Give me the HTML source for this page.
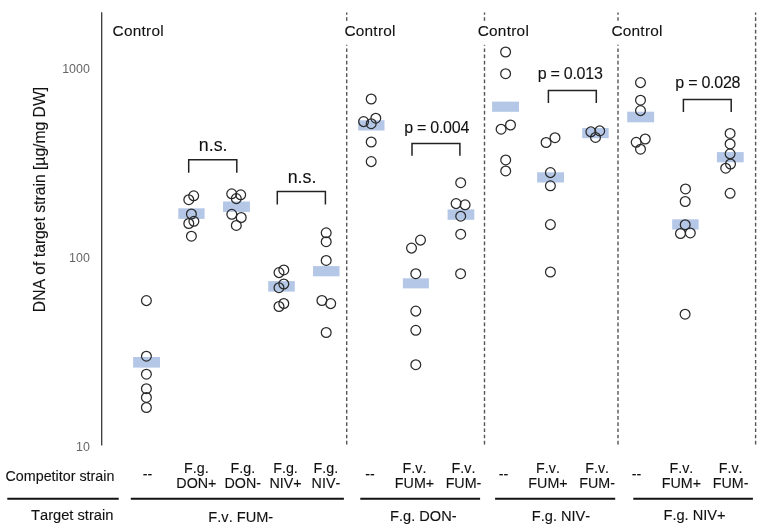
<!DOCTYPE html>
<html><head><meta charset="utf-8"><style>html,body{margin:0;padding:0;background:#fff;width:763px;height:530px;overflow:hidden}svg{display:block}text{font-family:"Liberation Sans",sans-serif;font-kerning:none;stroke:#1a1a1a;stroke-width:0.12px}svg{will-change:transform}</style></head><body>
<svg width="763" height="530" viewBox="0 0 763 530">
<rect width="763" height="530" fill="#fff"/>
<line x1="101.7" y1="12.3" x2="101.7" y2="445.5" stroke="#3a3a3a" stroke-width="1.3"/>
<text x="89.8" y="73.0" font-size="12.4" fill="#666" style="stroke:none" text-anchor="end">1000</text>
<text x="89.8" y="262.0" font-size="12.4" fill="#666" style="stroke:none" text-anchor="end">100</text>
<text x="89.8" y="450.5" font-size="12.4" fill="#666" style="stroke:none" text-anchor="end">10</text>
<text transform="translate(44.6,199.5) rotate(-90)" font-size="15.7" fill="#111" text-anchor="middle">DNA of target strain [µg/mg DW]</text>
<line x1="346.7" y1="12.5" x2="346.7" y2="445" stroke="#555" stroke-width="1.4" stroke-dasharray="3.7 2.53" stroke-dashoffset="1.5"/>
<line x1="484.5" y1="12.5" x2="484.5" y2="445" stroke="#555" stroke-width="1.4" stroke-dasharray="3.7 2.53" stroke-dashoffset="1.5"/>
<line x1="618.0" y1="12.5" x2="618.0" y2="445" stroke="#555" stroke-width="1.4" stroke-dasharray="3.7 2.53" stroke-dashoffset="1.5"/>
<line x1="755.6" y1="12.5" x2="755.6" y2="445" stroke="#555" stroke-width="1.4" stroke-dasharray="3.7 2.53" stroke-dashoffset="1.5"/>
<rect x="112.6" y="20.799999999999997" width="52" height="24" fill="#fff"/>
<text x="112.6" y="35.8" font-size="15.4" letter-spacing="0.25" fill="#111">Control</text>
<rect x="344.4" y="20.799999999999997" width="52" height="24" fill="#fff"/>
<text x="344.4" y="35.8" font-size="15.4" letter-spacing="0.25" fill="#111">Control</text>
<rect x="477.7" y="20.799999999999997" width="52" height="24" fill="#fff"/>
<text x="477.7" y="35.8" font-size="15.4" letter-spacing="0.25" fill="#111">Control</text>
<rect x="611.4" y="20.700000000000003" width="52" height="24" fill="#fff"/>
<text x="611.4" y="35.7" font-size="15.4" letter-spacing="0.25" fill="#111">Control</text>
<rect x="133.1" y="357" width="26.9" height="10.6" fill="#b4c7e7"/>
<rect x="178.3" y="208.3" width="26.3" height="10.6" fill="#b4c7e7"/>
<rect x="223.0" y="201.5" width="26.9" height="10.4" fill="#b4c7e7"/>
<rect x="268.2" y="281.1" width="26.6" height="10.5" fill="#b4c7e7"/>
<rect x="313" y="266.1" width="26.5" height="10.2" fill="#b4c7e7"/>
<rect x="358.2" y="120.3" width="26.3" height="10.2" fill="#b4c7e7"/>
<rect x="402.9" y="278.3" width="26.0" height="10.1" fill="#b4c7e7"/>
<rect x="447.6" y="209.4" width="26.7" height="10.4" fill="#b4c7e7"/>
<rect x="492.1" y="101.6" width="26.9" height="10.2" fill="#b4c7e7"/>
<rect x="537.1" y="172.3" width="26.9" height="10.2" fill="#b4c7e7"/>
<rect x="582.2" y="128" width="26.5" height="10.2" fill="#b4c7e7"/>
<rect x="627.2" y="111.7" width="26.9" height="10.6" fill="#b4c7e7"/>
<rect x="672.2" y="219.3" width="26.4" height="10.2" fill="#b4c7e7"/>
<rect x="716.9" y="152.1" width="26.8" height="10.2" fill="#b4c7e7"/>
<circle cx="146.4" cy="300.6" r="4.9" fill="none" stroke="#2a2a2a" stroke-width="1.25"/>
<circle cx="146.4" cy="356.2" r="4.9" fill="none" stroke="#2a2a2a" stroke-width="1.25"/>
<circle cx="146.4" cy="374.2" r="4.9" fill="none" stroke="#2a2a2a" stroke-width="1.25"/>
<circle cx="146.4" cy="388.7" r="4.9" fill="none" stroke="#2a2a2a" stroke-width="1.25"/>
<circle cx="146.4" cy="397.4" r="4.9" fill="none" stroke="#2a2a2a" stroke-width="1.25"/>
<circle cx="146.4" cy="407.5" r="4.9" fill="none" stroke="#2a2a2a" stroke-width="1.25"/>
<circle cx="188.8" cy="199.7" r="4.9" fill="none" stroke="#2a2a2a" stroke-width="1.25"/>
<circle cx="193.7" cy="195.8" r="4.9" fill="none" stroke="#2a2a2a" stroke-width="1.25"/>
<circle cx="191.4" cy="214.0" r="4.9" fill="none" stroke="#2a2a2a" stroke-width="1.25"/>
<circle cx="188.8" cy="223.5" r="4.9" fill="none" stroke="#2a2a2a" stroke-width="1.25"/>
<circle cx="193.9" cy="221.3" r="4.9" fill="none" stroke="#2a2a2a" stroke-width="1.25"/>
<circle cx="191.4" cy="236.2" r="4.9" fill="none" stroke="#2a2a2a" stroke-width="1.25"/>
<circle cx="231.7" cy="193.8" r="4.9" fill="none" stroke="#2a2a2a" stroke-width="1.25"/>
<circle cx="240.7" cy="194.8" r="4.9" fill="none" stroke="#2a2a2a" stroke-width="1.25"/>
<circle cx="236.3" cy="198.6" r="4.9" fill="none" stroke="#2a2a2a" stroke-width="1.25"/>
<circle cx="231.8" cy="214.3" r="4.9" fill="none" stroke="#2a2a2a" stroke-width="1.25"/>
<circle cx="241.2" cy="217.5" r="4.9" fill="none" stroke="#2a2a2a" stroke-width="1.25"/>
<circle cx="236.3" cy="225.4" r="4.9" fill="none" stroke="#2a2a2a" stroke-width="1.25"/>
<circle cx="283.8" cy="269.9" r="4.9" fill="none" stroke="#2a2a2a" stroke-width="1.25"/>
<circle cx="279" cy="272.6" r="4.9" fill="none" stroke="#2a2a2a" stroke-width="1.25"/>
<circle cx="283.8" cy="284" r="4.9" fill="none" stroke="#2a2a2a" stroke-width="1.25"/>
<circle cx="279" cy="287.7" r="4.9" fill="none" stroke="#2a2a2a" stroke-width="1.25"/>
<circle cx="283.8" cy="303.5" r="4.9" fill="none" stroke="#2a2a2a" stroke-width="1.25"/>
<circle cx="279" cy="306.5" r="4.9" fill="none" stroke="#2a2a2a" stroke-width="1.25"/>
<circle cx="326.2" cy="232.8" r="4.9" fill="none" stroke="#2a2a2a" stroke-width="1.25"/>
<circle cx="326.2" cy="241.7" r="4.9" fill="none" stroke="#2a2a2a" stroke-width="1.25"/>
<circle cx="326.2" cy="260.4" r="4.9" fill="none" stroke="#2a2a2a" stroke-width="1.25"/>
<circle cx="321.9" cy="300.5" r="4.9" fill="none" stroke="#2a2a2a" stroke-width="1.25"/>
<circle cx="330.7" cy="303.6" r="4.9" fill="none" stroke="#2a2a2a" stroke-width="1.25"/>
<circle cx="326.2" cy="332.5" r="4.9" fill="none" stroke="#2a2a2a" stroke-width="1.25"/>
<circle cx="371.2" cy="99" r="4.9" fill="none" stroke="#2a2a2a" stroke-width="1.25"/>
<circle cx="363.6" cy="121.6" r="4.9" fill="none" stroke="#2a2a2a" stroke-width="1.25"/>
<circle cx="375.8" cy="118.2" r="4.9" fill="none" stroke="#2a2a2a" stroke-width="1.25"/>
<circle cx="371.2" cy="123.7" r="4.9" fill="none" stroke="#2a2a2a" stroke-width="1.25"/>
<circle cx="371.2" cy="142" r="4.9" fill="none" stroke="#2a2a2a" stroke-width="1.25"/>
<circle cx="371.2" cy="161.6" r="4.9" fill="none" stroke="#2a2a2a" stroke-width="1.25"/>
<circle cx="420.5" cy="240.1" r="4.9" fill="none" stroke="#2a2a2a" stroke-width="1.25"/>
<circle cx="411.5" cy="248.1" r="4.9" fill="none" stroke="#2a2a2a" stroke-width="1.25"/>
<circle cx="415.8" cy="273.7" r="4.9" fill="none" stroke="#2a2a2a" stroke-width="1.25"/>
<circle cx="415.8" cy="311.1" r="4.9" fill="none" stroke="#2a2a2a" stroke-width="1.25"/>
<circle cx="415.8" cy="330.3" r="4.9" fill="none" stroke="#2a2a2a" stroke-width="1.25"/>
<circle cx="415.8" cy="364.7" r="4.9" fill="none" stroke="#2a2a2a" stroke-width="1.25"/>
<circle cx="460.7" cy="182.7" r="4.9" fill="none" stroke="#2a2a2a" stroke-width="1.25"/>
<circle cx="456.1" cy="203.6" r="4.9" fill="none" stroke="#2a2a2a" stroke-width="1.25"/>
<circle cx="465.1" cy="204.8" r="4.9" fill="none" stroke="#2a2a2a" stroke-width="1.25"/>
<circle cx="460.7" cy="216.2" r="4.9" fill="none" stroke="#2a2a2a" stroke-width="1.25"/>
<circle cx="460.7" cy="234.2" r="4.9" fill="none" stroke="#2a2a2a" stroke-width="1.25"/>
<circle cx="460.6" cy="273.7" r="4.9" fill="none" stroke="#2a2a2a" stroke-width="1.25"/>
<circle cx="505.6" cy="52" r="4.9" fill="none" stroke="#2a2a2a" stroke-width="1.25"/>
<circle cx="505.6" cy="73.7" r="4.9" fill="none" stroke="#2a2a2a" stroke-width="1.25"/>
<circle cx="510.5" cy="125" r="4.9" fill="none" stroke="#2a2a2a" stroke-width="1.25"/>
<circle cx="501.1" cy="129.2" r="4.9" fill="none" stroke="#2a2a2a" stroke-width="1.25"/>
<circle cx="505.7" cy="159.9" r="4.9" fill="none" stroke="#2a2a2a" stroke-width="1.25"/>
<circle cx="505.7" cy="170.9" r="4.9" fill="none" stroke="#2a2a2a" stroke-width="1.25"/>
<circle cx="555" cy="137.7" r="4.9" fill="none" stroke="#2a2a2a" stroke-width="1.25"/>
<circle cx="546.1" cy="142.5" r="4.9" fill="none" stroke="#2a2a2a" stroke-width="1.25"/>
<circle cx="550.4" cy="172.6" r="4.9" fill="none" stroke="#2a2a2a" stroke-width="1.25"/>
<circle cx="550.4" cy="185.8" r="4.9" fill="none" stroke="#2a2a2a" stroke-width="1.25"/>
<circle cx="550.4" cy="224.6" r="4.9" fill="none" stroke="#2a2a2a" stroke-width="1.25"/>
<circle cx="550.4" cy="272" r="4.9" fill="none" stroke="#2a2a2a" stroke-width="1.25"/>
<circle cx="590.9" cy="131.8" r="4.9" fill="none" stroke="#2a2a2a" stroke-width="1.25"/>
<circle cx="599.7" cy="130.9" r="4.9" fill="none" stroke="#2a2a2a" stroke-width="1.25"/>
<circle cx="595.5" cy="137.4" r="4.9" fill="none" stroke="#2a2a2a" stroke-width="1.25"/>
<circle cx="640.5" cy="82.6" r="4.9" fill="none" stroke="#2a2a2a" stroke-width="1.25"/>
<circle cx="640.5" cy="100.2" r="4.9" fill="none" stroke="#2a2a2a" stroke-width="1.25"/>
<circle cx="640.5" cy="110.6" r="4.9" fill="none" stroke="#2a2a2a" stroke-width="1.25"/>
<circle cx="645.2" cy="139" r="4.9" fill="none" stroke="#2a2a2a" stroke-width="1.25"/>
<circle cx="636.2" cy="142.3" r="4.9" fill="none" stroke="#2a2a2a" stroke-width="1.25"/>
<circle cx="640.5" cy="149.2" r="4.9" fill="none" stroke="#2a2a2a" stroke-width="1.25"/>
<circle cx="685.5" cy="188.9" r="4.9" fill="none" stroke="#2a2a2a" stroke-width="1.25"/>
<circle cx="685.2" cy="201.5" r="4.9" fill="none" stroke="#2a2a2a" stroke-width="1.25"/>
<circle cx="685.2" cy="224.7" r="4.9" fill="none" stroke="#2a2a2a" stroke-width="1.25"/>
<circle cx="680.5" cy="233.5" r="4.9" fill="none" stroke="#2a2a2a" stroke-width="1.25"/>
<circle cx="690.3" cy="232.9" r="4.9" fill="none" stroke="#2a2a2a" stroke-width="1.25"/>
<circle cx="685.1" cy="314.2" r="4.9" fill="none" stroke="#2a2a2a" stroke-width="1.25"/>
<circle cx="730.1" cy="133.4" r="4.9" fill="none" stroke="#2a2a2a" stroke-width="1.25"/>
<circle cx="730.1" cy="143.9" r="4.9" fill="none" stroke="#2a2a2a" stroke-width="1.25"/>
<circle cx="730.1" cy="153.8" r="4.9" fill="none" stroke="#2a2a2a" stroke-width="1.25"/>
<circle cx="730.5" cy="164" r="4.9" fill="none" stroke="#2a2a2a" stroke-width="1.25"/>
<circle cx="725.7" cy="168.2" r="4.9" fill="none" stroke="#2a2a2a" stroke-width="1.25"/>
<circle cx="730.1" cy="193.3" r="4.9" fill="none" stroke="#2a2a2a" stroke-width="1.25"/>
<path d="M188.7 172.8V159.7H236.8V172.8" fill="none" stroke="#222" stroke-width="1.5"/>
<text x="213.2" y="151.4" font-size="17.8" fill="#111" text-anchor="middle">n.s.</text>
<path d="M277.3 204.5V191.4H325.4V204.5" fill="none" stroke="#222" stroke-width="1.5"/>
<text x="302.0" y="182.6" font-size="17.8" fill="#111" text-anchor="middle">n.s.</text>
<path d="M412.0 155.8V143.4H459.9V155.8" fill="none" stroke="#222" stroke-width="1.5"/>
<text x="436.6" y="133.0" font-size="16.0" letter-spacing="-0.25" fill="#111" text-anchor="middle">p = 0.004</text>
<path d="M548.4 102.9V90.4H596.3V102.9" fill="none" stroke="#222" stroke-width="1.5"/>
<text x="570.1" y="79.2" font-size="16.0" letter-spacing="-0.25" fill="#111" text-anchor="middle">p = 0.013</text>
<path d="M683.4 112.0V99.4H731.2V112.0" fill="none" stroke="#222" stroke-width="1.5"/>
<text x="707.8" y="88.1" font-size="16.0" letter-spacing="-0.25" fill="#111" text-anchor="middle">p = 0.028</text>
<text x="5.5" y="481.0" font-size="14.3" fill="#111">Competitor strain</text>
<text x="31" y="520" font-size="14.7" fill="#111">Target strain</text>
<line x1="7.3" y1="498.8" x2="118.7" y2="498.8" stroke="#111" stroke-width="2.1"/>
<line x1="130.8" y1="498.8" x2="343.9" y2="498.8" stroke="#111" stroke-width="2.1"/>
<line x1="360.3" y1="498.8" x2="480.1" y2="498.8" stroke="#111" stroke-width="2.1"/>
<line x1="495.1" y1="498.8" x2="615.2" y2="498.8" stroke="#111" stroke-width="2.1"/>
<line x1="633.3" y1="498.8" x2="752.9" y2="498.8" stroke="#111" stroke-width="2.1"/>
<text x="147.6" y="479" font-size="14.3" fill="#111" text-anchor="middle">--</text>
<text x="196.4" y="472.6" font-size="14.3" fill="#111" text-anchor="middle">F.g.</text>
<text x="196.4" y="488" font-size="14.3" fill="#111" text-anchor="middle">DON+</text>
<text x="242.8" y="472.6" font-size="14.3" fill="#111" text-anchor="middle">F.g.</text>
<text x="242.8" y="488" font-size="14.3" fill="#111" text-anchor="middle">DON-</text>
<text x="285.5" y="472.6" font-size="14.3" fill="#111" text-anchor="middle">F.g.</text>
<text x="285.5" y="488" font-size="14.3" fill="#111" text-anchor="middle">NIV+</text>
<text x="325.9" y="472.6" font-size="14.3" fill="#111" text-anchor="middle">F.g.</text>
<text x="325.9" y="488" font-size="14.3" fill="#111" text-anchor="middle">NIV-</text>
<text x="369.9" y="479" font-size="14.3" fill="#111" text-anchor="middle">--</text>
<text x="414.5" y="472.6" font-size="14.3" fill="#111" text-anchor="middle">F.v.</text>
<text x="414.5" y="488" font-size="14.3" fill="#111" text-anchor="middle">FUM+</text>
<text x="463.5" y="472.6" font-size="14.3" fill="#111" text-anchor="middle">F.v.</text>
<text x="463.5" y="488" font-size="14.3" fill="#111" text-anchor="middle">FUM-</text>
<text x="503.4" y="479" font-size="14.3" fill="#111" text-anchor="middle">--</text>
<text x="548.0" y="472.6" font-size="14.3" fill="#111" text-anchor="middle">F.v.</text>
<text x="548.0" y="488" font-size="14.3" fill="#111" text-anchor="middle">FUM+</text>
<text x="597.1" y="472.6" font-size="14.3" fill="#111" text-anchor="middle">F.v.</text>
<text x="597.1" y="488" font-size="14.3" fill="#111" text-anchor="middle">FUM-</text>
<text x="636.6" y="479" font-size="14.3" fill="#111" text-anchor="middle">--</text>
<text x="681.4" y="472.6" font-size="14.3" fill="#111" text-anchor="middle">F.v.</text>
<text x="681.4" y="488" font-size="14.3" fill="#111" text-anchor="middle">FUM+</text>
<text x="730.6" y="472.6" font-size="14.3" fill="#111" text-anchor="middle">F.v.</text>
<text x="730.6" y="488" font-size="14.3" fill="#111" text-anchor="middle">FUM-</text>
<text x="240.8" y="521.5" font-size="14.6" fill="#111" text-anchor="middle">F.v. FUM-</text>
<text x="423.3" y="521.3" font-size="14.6" fill="#111" text-anchor="middle">F.g. DON-</text>
<text x="561.0" y="521.0" font-size="14.6" fill="#111" text-anchor="middle">F.g. NIV-</text>
<text x="694.5" y="520.0" font-size="14.6" fill="#111" text-anchor="middle">F.g. NIV+</text>
</svg></body></html>
